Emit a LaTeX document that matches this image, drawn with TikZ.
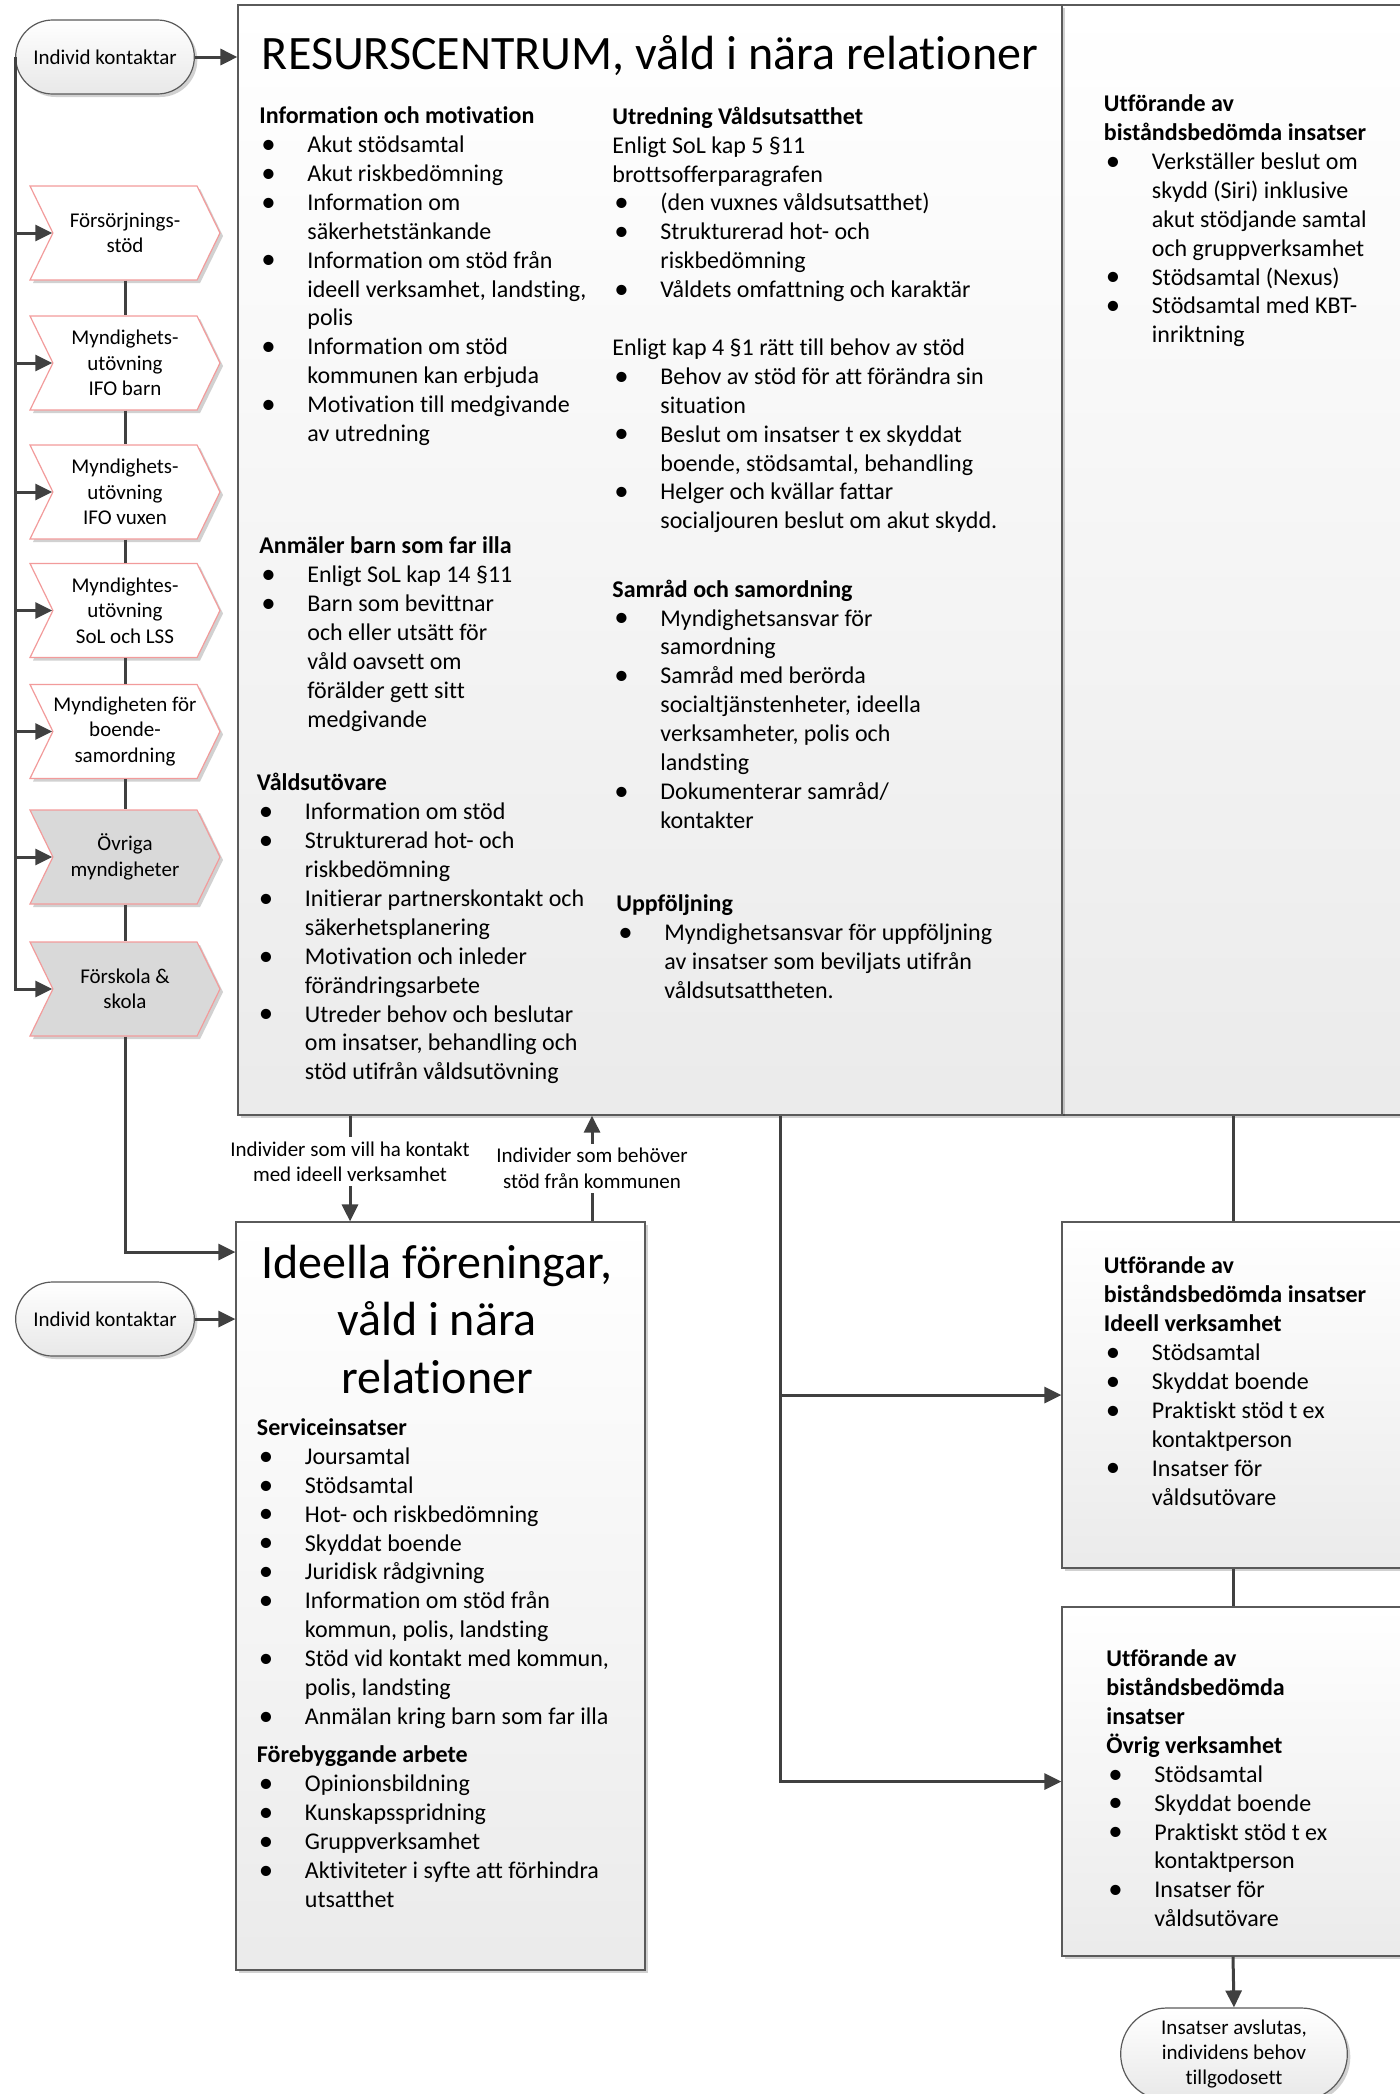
\documentclass[tikz,border=0pt]{standalone}
\usepackage{fontspec}
\setmainfont{Carlito}[Ligatures={NoCommon}]
\usetikzlibrary{arrows.meta,shapes.symbols,shapes.misc,shadows}
\definecolor{linecol}{HTML}{404040}
\definecolor{boxcol}{HTML}{5A5A5A}
\definecolor{chevcol}{HTML}{F29B9B}
\definecolor{chevfill}{HTML}{D9D9D9}
\newcommand{\bul}{\makebox[24pt][l]{\hspace{1pt}\raisebox{-0.4pt}{\scalebox{1.2}{\textbullet}}}}
\newcommand{\ind}{\hspace*{24pt}}
\tikzset{
  conn/.style={draw=linecol,line width=1.5pt},
  arr/.style={conn,-{Triangle[length=8.5pt,width=8pt]}},
  shad/.style={drop shadow={shadow xshift=1.5pt,shadow yshift=-1.5pt,opacity=0.18,fill=black}},
  blockbox/.style={rectangle,draw=boxcol,line width=0.6pt,top color=white,bottom color=black!8,shad},
  chev/.style={signal,signal from=west,signal to=east,signal pointer angle=128,
    draw=chevcol,line width=0.6pt,fill=white,minimum width=95pt,minimum height=47pt,
    inner sep=0pt,align=center,font=\fontsize{10.5}{12.7}\selectfont,shad},
  chevgray/.style={chev,fill=chevfill},
  termnode/.style={rounded rectangle,draw=boxcol,line width=0.6pt,top color=white,
    bottom color=black!9,align=center,font=\fontsize{10.5}{12.7}\selectfont,shad},
  txt/.style={anchor=north west,inner sep=0pt,align=left,
    font=\fontsize{12}{14.45}\selectfont,execute at begin node=\strut},
  lbl/.style={inner sep=2pt,align=center,font=\fontsize{10.5}{12.7}\selectfont}
}
\begin{document}
\begin{tikzpicture}[x=0.5pt,y=-0.5pt]
\useasboundingbox (0,0) rectangle (1400,2094);

\node[blockbox,minimum width=171pt,minimum height=555pt] (rt) at (1233,560) {};
\node[blockbox,minimum width=412pt,minimum height=555pt] (rc) at (650,560) {};
\node[blockbox,minimum width=204.5pt,minimum height=374pt] (ide) at (440.5,1596) {};
\node[blockbox,minimum width=171pt,minimum height=173pt] (utf2) at (1233,1395) {};
\node[blockbox,minimum width=171pt,minimum height=174.5pt] (utf3) at (1233,1781.5) {};

\node[termnode,minimum width=96pt,minimum height=37pt] (kontakt1) at (105,57) {Individ kontaktar};
\node[termnode,minimum width=96pt,minimum height=37pt] (kontakt2) at (105,1319) {Individ kontaktar};
\node[termnode,minimum width=120pt,minimum height=46pt] (avslut) at (1234,2054)
  {Insatser avslutas,\\individens behov\\tillgodosett};

\node[chev] (fs) at (125,233) {Försörjnings-\\stöd};
\node[chev] (ifob) at (125,363) {Myndighets-\\utövning\\IFO barn};
\node[chev] (ifov) at (125,492) {Myndighets-\\utövning\\IFO vuxen};
\node[chev] (sol) at (125,610.5) {Myndightes-\\utövning\\SoL och LSS};
\node[chev] (boende) at (125,731.5) {Myndigheten för\\boende-\\samordning};
\node[chevgray] (ovriga) at (125,857) {Övriga\\myndigheter};
\node[chevgray] (skola) at (125,989) {Förskola \&\\skola};

\node[anchor=base,inner sep=0pt,font=\fontsize{24}{28.75}\selectfont] (rcTitle) at (650,69.5)
  {RESURSCENTRUM, våld i nära relationer};
\node[anchor=north,inner sep=0pt,align=center,font=\fontsize{24}{28.75}\selectfont,
  execute at begin node=\strut] (ideTitle) at (437,1244.5)
  {Ideella föreningar,\\våld i nära\\relationer};

\node[txt] (info) at (259,106.4) {\textbf{Information och motivation}\\
\bul Akut stödsamtal\\
\bul Akut riskbedömning\\
\bul Information om\\
\ind säkerhetstänkande\\
\bul Information om stöd från\\
\ind ideell verksamhet, landsting,\\
\ind polis\\
\bul Information om stöd\\
\ind kommunen kan erbjuda\\
\bul Motivation till medgivande\\
\ind av utredning};

\node[txt] (anm) at (259,536.6) {\textbf{Anmäler barn som far illa}\\
\bul Enligt SoL kap 14 §11\\
\bul Barn som bevittnar\\
\ind och eller utsätt för\\
\ind våld oavsett om\\
\ind förälder gett sitt\\
\ind medgivande};

\node[txt] (vu) at (256.5,773) {\textbf{Våldsutövare}\\
\bul Information om stöd\\
\bul Strukturerad hot- och\\
\ind riskbedömning\\
\bul Initierar partnerskontakt och\\
\ind säkerhetsplanering\\
\bul Motivation och inleder\\
\ind förändringsarbete\\
\bul Utreder behov och beslutar\\
\ind om insatser, behandling och\\
\ind stöd utifrån våldsutövning};

\node[txt] (utr) at (612,106.4) {\textbf{Utredning Våldsutsatthet}\\
Enligt SoL kap 5 §11\\
brottsofferparagrafen\\
\bul (den vuxnes våldsutsatthet)\\
\bul Strukturerad hot- och\\
\ind riskbedömning\\
\bul Våldets omfattning och karaktär\\[14.45pt]
Enligt kap 4 §1 rätt till behov av stöd\\
\bul Behov av stöd för att förändra sin\\
\ind situation\\
\bul Beslut om insatser t ex skyddat\\
\ind boende, stödsamtal, behandling\\
\bul Helger och kvällar fattar\\
\ind socialjouren beslut om akut skydd.};

\node[txt] (samr) at (612,579.3) {\textbf{Samråd och samordning}\\
\bul Myndighetsansvar för\\
\ind samordning\\
\bul Samråd med berörda\\
\ind socialtjänstenheter, ideella\\
\ind verksamheter, polis och\\
\ind landsting\\
\bul Dokumenterar samråd/\\
\ind kontakter};

\node[txt] (uppf) at (616,894.6) {\textbf{Uppföljning}\\
\bul Myndighetsansvar för uppföljning\\
\ind av insatser som beviljats utifrån\\
\ind våldsutsattheten.};

\node[txt] (rtText) at (1103.5,94.4) {\textbf{Utförande av}\\
\textbf{biståndsbedömda insatser}\\
\bul Verkställer beslut om\\
\ind skydd (Siri) inklusive\\
\ind akut stödjande samtal\\
\ind och gruppverksamhet\\
\bul Stödsamtal (Nexus)\\
\bul Stödsamtal med KBT-\\
\ind inriktning};

\node[txt] (ideText) at (256.5,1418.2) {\textbf{Serviceinsatser}\\
\bul Joursamtal\\
\bul Stödsamtal\\
\bul Hot- och riskbedömning\\
\bul Skyddat boende\\
\bul Juridisk rådgivning\\
\bul Information om stöd från\\
\ind kommun, polis, landsting\\
\bul Stöd vid kontakt med kommun,\\
\ind polis, landsting\\
\bul Anmälan kring barn som far illa\\[4.8pt]
\textbf{Förebyggande arbete}\\
\bul Opinionsbildning\\
\bul Kunskapsspridning\\
\bul Gruppverksamhet\\
\bul Aktiviteter i syfte att förhindra\\
\ind utsatthet};

\node[txt] (utf2Text) at (1103.5,1256.6) {\textbf{Utförande av}\\
\textbf{biståndsbedömda insatser}\\
\textbf{Ideell verksamhet}\\
\bul Stödsamtal\\
\bul Skyddat boende\\
\bul Praktiskt stöd t ex\\
\ind kontaktperson\\
\bul Insatser för\\
\ind våldsutövare};

\node[txt] (utf3Text) at (1106,1649.4) {\textbf{Utförande av}\\
\textbf{biståndsbedömda}\\
\textbf{insatser}\\
\textbf{Övrig verksamhet}\\
\bul Stödsamtal\\
\bul Skyddat boende\\
\bul Praktiskt stöd t ex\\
\ind kontaktperson\\
\bul Insatser för\\
\ind våldsutövare};

\node[lbl] (lab1) at (350,1161.6) {Individer som vill ha kontakt\\med ideell verksamhet};
\node[lbl] (lab2) at (592,1168.3) {Individer som behöver\\stöd från kommunen};

\coordinate (ideIn) at (ide.west |- 0,1252);
\coordinate (split) at (780,0 |- rc.south);

\draw[arr] (kontakt1.east) -- (kontakt1.east -| rc.west);
\draw[arr] (kontakt2.east) -- (kontakt2.east -| ide.west);
\draw[arr] (kontakt1.west) |- (skola.west);
\draw[arr] (kontakt1.west |- fs.west) -- (fs.west);
\draw[arr] (kontakt1.west |- ifob.west) -- (ifob.west);
\draw[arr] (kontakt1.west |- ifov.west) -- (ifov.west);
\draw[arr] (kontakt1.west |- sol.west) -- (sol.west);
\draw[arr] (kontakt1.west |- boende.west) -- (boende.west);
\draw[arr] (kontakt1.west |- ovriga.west) -- (ovriga.west);
\draw[conn] (fs.south) -- (ifob.north);
\draw[conn] (ifob.south) -- (ifov.north);
\draw[conn] (ifov.south) -- (sol.north);
\draw[conn] (sol.south) -- (boende.north);
\draw[conn] (boende.south) -- (ovriga.north);
\draw[conn] (ovriga.south) -- (skola.north);
\draw[arr] (skola.south) |- (ideIn);
\draw[conn] (lab1 |- rc.south) -- (lab1.north);
\draw[arr] (lab1.south) -- (lab1 |- ide.north);
\draw[conn] (lab2 |- ide.north) -- (lab2.south);
\draw[arr] (lab2.north) -- (lab2 |- rc.south);
\draw[arr] (split) |- (utf3.west);
\draw[arr] (split |- utf2.west) -- (utf2.west);
\draw[conn] (rt.south) -- (utf2.north);
\draw[conn] (utf2.south) -- (utf3.north);
\draw[arr] (utf3.south) -- (avslut.north);
\end{tikzpicture}
\end{document}
